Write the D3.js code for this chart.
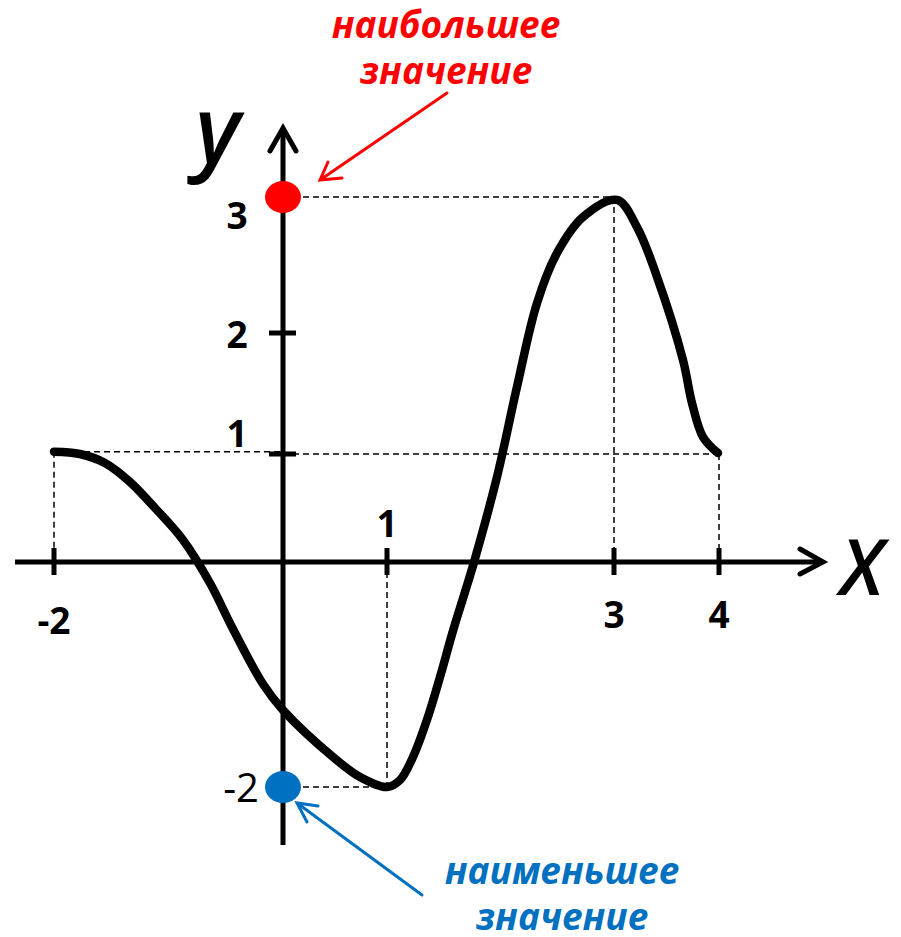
<!DOCTYPE html>
<html><head><meta charset="utf-8">
<script src="https://cdn.jsdelivr.net/npm/d3@7"></script>
<style>body{margin:0;background:#fff}svg{display:block}</style>
</head><body>
<svg id="c" width="901" height="937"></svg>
<script>
// ---- data ----
const curveX = [-2, -1.773, -1.555, -1.336, -1.118, -0.873, -0.638, -0.437, -0.175, 0, 0.481, 0.74, 1.0, 1.115, 1.229, 1.352, 1.467, 1.581, 1.687, 1.767, 1.969, 2.145, 2.322, 2.498, 2.727, 3.029, 3.219, 3.41, 3.657, 3.743, 3.848, 3.99];
const curveY = [1.019, 1.0, 0.917, 0.741, 0.5, 0.204, -0.187, -0.596, -1.084, -1.316, -1.733, -1.911, -2, -1.938, -1.733, -1.404, -1.022, -0.613, -0.267, 0, 0.787, 1.554, 2.221, 2.588, 2.853, 2.978, 2.779, 2.412, 1.777, 1.421, 1.14, 1.008];
const xTickValues = [-2, 1, 3, 4];
const xTickLabels = ["-2", "1", "3", "4"];
const yTickValues = [1, 2, 3];
const yTickLabels = ["1", "2", "3"];
const maxPoint = {x: 3, y: 3};
const minPoint = {x: 1, y: -2};
const endPoint = {x: 4, y: 1};
const startPoint = {x: -2, y: 1.019};
const topLabel = ["наибольшее", "значение"];
const bottomLabel = ["наименьшее", "значение"];

// ---- scales ----
const x = d3.scaleLinear().domain([-2, 0, 1, 3, 4]).range([54, 283, 387, 614, 719]);
const y = d3.scaleLinear().domain([-2, 0, 1, 2, 3]).range([787, 562, 454, 333, 197]);

const svg = d3.select("#c");
const X0 = x(0), Y0 = y(0);
const dash = {stroke: "#000", "stroke-width": 1.5, "stroke-dasharray": "6,4", fill: "none"};
function line(g, x1, y1, x2, y2, attrs) {
  const l = g.append("line").attr("x1", x1).attr("y1", y1).attr("x2", x2).attr("y2", y2);
  for (const k in attrs) l.attr(k, attrs[k]);
  return l;
}

// dashed guides
const gd = svg.append("g");
line(gd, X0, y(maxPoint.y), x(maxPoint.x), y(maxPoint.y), dash);
line(gd, x(maxPoint.x), y(maxPoint.y), x(maxPoint.x), Y0, dash);
line(gd, x(startPoint.x), y(startPoint.y), X0, y(startPoint.y), dash);
line(gd, x(startPoint.x), y(startPoint.y), x(startPoint.x), Y0, dash);
line(gd, X0, y(endPoint.y), x(endPoint.x), y(endPoint.y), dash);
line(gd, x(endPoint.x), y(endPoint.y), x(endPoint.x), Y0, dash);
line(gd, x(minPoint.x), Y0, x(minPoint.x), y(minPoint.y), dash);
line(gd, X0, y(minPoint.y), x(minPoint.x), y(minPoint.y), dash);

// axes
const ax = svg.append("g").attr("stroke", "#000").attr("fill", "none");
const axw = {stroke: "#000", "stroke-width": 5};
line(ax, 15, Y0, 823, Y0, axw);
line(ax, X0, 845, X0, 128, axw);
ax.append("path").attr("d", `M800,549 L823,${Y0} L800,574`).attr("stroke-width", 5).attr("stroke-linecap", "round").attr("stroke-linejoin", "miter");
ax.append("path").attr("d", `M270,151 L${X0},128 L296,151`).attr("stroke-width", 5).attr("stroke-linecap", "round");
xTickValues.forEach(v => line(ax, x(v), Y0 - 14, x(v), Y0 + 13, axw));
yTickValues.forEach(v => line(ax, X0 - 14, y(v), X0 + 13, y(v), axw));

// curve
const pts = curveX.map((v, i) => [x(v), y(curveY[i])]);
svg.append("path").attr("d", d3.line().curve(d3.curveCatmullRom.alpha(0.5))(pts))
  .attr("fill", "none").attr("stroke", "#000").attr("stroke-width", 8.5).attr("stroke-linecap", "round").attr("stroke-linejoin", "round");

// tick labels
const lab = svg.append("g").attr("font-family", "'Open Sans', sans-serif").attr("font-weight", "bold").attr("font-size", 37).attr("fill", "#000");
const xLabelY = {"-2": 634, "1": 537, "3": 628, "4": 628};
xTickValues.forEach((v, i) => lab.append("text").attr("x", x(v)).attr("y", xLabelY[xTickLabels[i]]).attr("text-anchor", "middle").text(xTickLabels[i]));
const yLabelY = {"1": 447, "2": 348, "3": 229};
yTickValues.forEach((v, i) => lab.append("text").attr("x", 237).attr("y", yLabelY[yTickLabels[i]]).attr("text-anchor", "middle").text(yTickLabels[i]));
svg.append("text").attr("x", 259).attr("y", 802).attr("text-anchor", "end").attr("font-family", "'Open Sans', sans-serif").attr("font-size", 40).text("-2");

// axis letters
svg.append("text").attr("x", 195).attr("y", 163).attr("font-family", "'Open Sans', sans-serif").attr("font-style", "italic").attr("font-weight", 600).attr("font-size", 92).text("y");
svg.append("text").attr("x", 840).attr("y", 595).attr("font-family", "'Open Sans', sans-serif").attr("font-style", "italic").attr("font-weight", 600).attr("font-size", 77).text("X");

// points
svg.append("ellipse").attr("cx", X0).attr("cy", y(maxPoint.y)).attr("rx", 18).attr("ry", 16).attr("fill", "#FF0000");
svg.append("ellipse").attr("cx", X0).attr("cy", y(minPoint.y)).attr("rx", 18).attr("ry", 16).attr("fill", "#0070C0");

// annotation arrows
const red = "#FF0000", blue = "#0070C0";
svg.append("path").attr("d", "M447,93 L320,180 M328,162 L320,180 L342,178").attr("fill", "none").attr("stroke", red).attr("stroke-width", 3).attr("stroke-linecap", "round");
svg.append("path").attr("d", "M422,895 L297,803 M318,806 L297,803 L307,822").attr("fill", "none").attr("stroke", blue).attr("stroke-width", 3).attr("stroke-linecap", "round");

// annotation text
const at = svg.append("g").attr("font-family", "'Open Sans', sans-serif").attr("font-weight", "bold").attr("font-style", "italic").attr("font-size", 37).attr("text-anchor", "middle");
at.append("text").attr("x", 446).attr("y", 38).attr("fill", red).text(topLabel[0]);
at.append("text").attr("x", 446).attr("y", 84).attr("fill", red).text(topLabel[1]);
at.append("text").attr("x", 562).attr("y", 884).attr("fill", blue).text(bottomLabel[0]);
at.append("text").attr("x", 562).attr("y", 930).attr("fill", blue).text(bottomLabel[1]);
</script>
</body></html>
